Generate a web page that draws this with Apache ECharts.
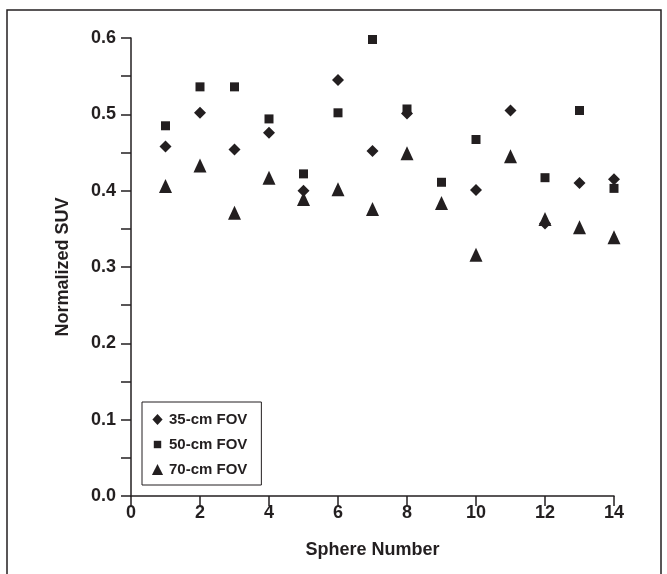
<!DOCTYPE html>
<html>
<head>
<meta charset="utf-8">
<script src="https://cdn.jsdelivr.net/npm/echarts@6/dist/echarts.min.js"></script>
<style>
  html, body { margin: 0; padding: 0; background: #fff; }
  #chart { width: 667px; height: 574px; }
</style>
</head>
<body>
<div id="chart"></div>
<script>
// sphere numbers on the x axis
const spheres = [1, 2, 3, 4, 5, 6, 7, 8, 9, 10, 11, 12, 13, 14];
// normalized SUV per field of view
const fov35 = [0.458, 0.502, 0.454, 0.476, 0.400, 0.545, 0.452, 0.501, null, 0.401, 0.505, 0.357, 0.410, 0.415];
const fov50 = [0.485, 0.536, 0.536, 0.494, 0.422, 0.502, 0.598, 0.507, 0.411, 0.467, null, 0.417, 0.505, 0.403];
const fov70 = [0.406, 0.433, 0.371, 0.417, 0.389, 0.402, 0.376, 0.449, 0.384, 0.316, 0.445, 0.363, 0.352, 0.339];
const seriesNames = ['35-cm FOV', '50-cm FOV', '70-cm FOV'];

const ink = '#231f20';
const font = 'Liberation Sans, Arial, Helvetica, sans-serif';

function pairs(values) {
  const out = [];
  values.forEach((v, i) => {
    if (v !== null) out.push([spheres[i], v]);
  });
  return out;
}

const chart = echarts.init(document.getElementById('chart'));

chart.setOption({
  backgroundColor: '#fff',
  animation: false,
  textStyle: { fontFamily: font, color: ink },
  graphic: [
    {
      type: 'rect',
      shape: { x: 7, y: 10, width: 654, height: 580 },
      style: { fill: 'none', stroke: ink, lineWidth: 1.5 },
      silent: true,
    },
  ],
  grid: { left: 131, top: 38, right: 53, bottom: 78 },
  legend: {
    orient: 'vertical',
    left: 142,
    top: 402,
    padding: [10, 14, 8, 9],
    itemGap: 10,
    itemWidth: 13,
    itemHeight: 13,
    borderColor: ink,
    borderWidth: 1,
    textStyle: { fontFamily: font, fontWeight: 'bold', fontSize: 15, color: ink },
    data: [
      // padded paths so the legend marks keep the sizes seen in the plot
      { name: seriesNames[0], icon: 'path://M0,0M14,14M7,1L12.5,7L7,13L1.5,7Z' },
      { name: seriesNames[1], icon: 'path://M0,0M14,14M3,3H11V11H3Z' },
      { name: seriesNames[2], icon: 'path://M0,0M14,14M7,1L13,13H1Z' },
    ],
  },
  xAxis: {
    type: 'value',
    min: 0,
    max: 14,
    interval: 2,
    name: 'Sphere Number',
    nameLocation: 'middle',
    nameGap: 45,
    nameTextStyle: { fontFamily: font, fontWeight: 'bold', fontSize: 18, color: ink },
    splitLine: { show: false },
    axisLine: { lineStyle: { color: ink, width: 1.5 } },
    axisTick: { inside: false, length: 10, lineStyle: { color: ink, width: 1.5 } },
    axisLabel: { margin: 8, fontFamily: font, fontWeight: 'bold', fontSize: 18, color: ink },
  },
  yAxis: {
    type: 'value',
    min: 0,
    max: 0.6,
    interval: 0.05,
    name: 'Normalized SUV',
    nameLocation: 'middle',
    nameGap: 59,
    nameTextStyle: { fontFamily: font, fontWeight: 'bold', fontSize: 18, color: ink },
    splitLine: { show: false },
    axisLine: { show: true, lineStyle: { color: ink, width: 1.5 } },
    axisTick: { show: true, length: 10, lineStyle: { color: ink, width: 1.5 } },
    axisLabel: {
      margin: 15,
      fontFamily: font,
      fontWeight: 'bold',
      fontSize: 18,
      color: ink,
      formatter: (v) => (Math.abs(Math.round(v * 10) - v * 10) < 1e-6 ? v.toFixed(1) : ''),
    },
  },
  series: [
    {
      name: seriesNames[0],
      type: 'scatter',
      symbol: 'diamond',
      symbolSize: 12,
      itemStyle: { color: ink, opacity: 1 },
      data: pairs(fov35),
    },
    {
      name: seriesNames[1],
      type: 'scatter',
      symbol: 'rect',
      symbolSize: 9,
      itemStyle: { color: ink, opacity: 1 },
      data: pairs(fov50),
    },
    {
      name: seriesNames[2],
      type: 'scatter',
      symbol: 'triangle',
      symbolSize: [13, 14],
      itemStyle: { color: ink, opacity: 1 },
      data: pairs(fov70),
    },
  ],
});
</script>
</body>
</html>
